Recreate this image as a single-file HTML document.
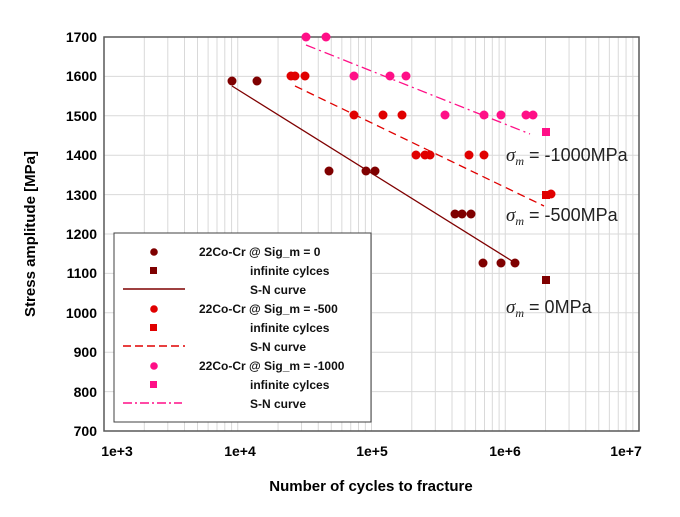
<!DOCTYPE html>
<html><head><meta charset="utf-8"><style>body{margin:0;background:#fff}svg{display:block}</style></head><body>
<svg width="680" height="517" xmlns="http://www.w3.org/2000/svg" font-family="Liberation Sans, Arial, sans-serif">
<g stroke="#d9d9d9" stroke-width="1">
<line x1="104" y1="76.4" x2="639" y2="76.4"/><line x1="104" y1="115.8" x2="639" y2="115.8"/><line x1="104" y1="155.2" x2="639" y2="155.2"/><line x1="104" y1="194.6" x2="639" y2="194.6"/><line x1="104" y1="234" x2="639" y2="234"/><line x1="104" y1="273.4" x2="639" y2="273.4"/><line x1="104" y1="312.8" x2="639" y2="312.8"/><line x1="104" y1="352.2" x2="639" y2="352.2"/><line x1="104" y1="391.6" x2="639" y2="391.6"/>
<g id="dec">
<line x1="144.3" y1="37" x2="144.3" y2="431"/><line x1="167.8" y1="37" x2="167.8" y2="431"/><line x1="184.5" y1="37" x2="184.5" y2="431"/><line x1="197.5" y1="37" x2="197.5" y2="431"/><line x1="208.1" y1="37" x2="208.1" y2="431"/><line x1="217" y1="37" x2="217" y2="431"/><line x1="224.8" y1="37" x2="224.8" y2="431"/><line x1="231.6" y1="37" x2="231.6" y2="431"/><line x1="237.75" y1="37" x2="237.75" y2="431"/>
</g>
<use href="#dec" transform="translate(133.75,0)"/><use href="#dec" transform="translate(267.5,0)"/><use href="#dec" transform="translate(401.25,0)"/>
</g>
<rect x="104" y="37" width="535" height="394" fill="none" stroke="#595959" stroke-width="1.5"/>
<g font-size="14" font-weight="bold" fill="#000" text-anchor="end">
<text x="97" y="42">1700</text><text x="97" y="81">1600</text><text x="97" y="121">1500</text><text x="97" y="160">1400</text><text x="97" y="200">1300</text><text x="97" y="239">1200</text><text x="97" y="278">1100</text><text x="97" y="318">1000</text><text x="97" y="357">900</text><text x="97" y="397">800</text><text x="97" y="436">700</text>
</g>
<g font-size="14" font-weight="bold" text-anchor="middle">
<text x="117" y="456">1e+3</text><text x="240" y="456">1e+4</text><text x="372" y="456">1e+5</text><text x="505" y="456">1e+6</text><text x="626" y="456">1e+7</text>
<text x="371" y="491" font-size="15">Number of cycles to fracture</text>
<text transform="translate(35,234) rotate(-90)" font-size="15">Stress amplitude [MPa]</text>
</g>
<line x1="232" y1="86" x2="512" y2="261" stroke="#7f0000" stroke-width="1.3"/>
<line x1="295" y1="86" x2="544" y2="206" stroke="#e00000" stroke-width="1.3" stroke-dasharray="8,5"/>
<line x1="306" y1="45" x2="530" y2="134" stroke="#ff0f87" stroke-width="1.3" stroke-dasharray="10,4,2,4"/>
<g fill="#7f0000">
<circle cx="232" cy="81" r="4.5"/><circle cx="257" cy="81" r="4.5"/><circle cx="329" cy="171" r="4.5"/><circle cx="366" cy="171" r="4.5"/><circle cx="375" cy="171" r="4.5"/><circle cx="455" cy="214" r="4.5"/><circle cx="462" cy="214" r="4.5"/><circle cx="471" cy="214" r="4.5"/><circle cx="483" cy="263" r="4.5"/><circle cx="501" cy="263" r="4.5"/><circle cx="515" cy="263" r="4.5"/><rect x="542" y="276" width="8" height="8"/>
</g>
<g fill="#e00000">
<circle cx="291" cy="76" r="4.5"/><circle cx="295" cy="76" r="4.5"/><circle cx="305" cy="76" r="4.5"/><circle cx="354" cy="115" r="4.5"/><circle cx="383" cy="115" r="4.5"/><circle cx="402" cy="115" r="4.5"/><circle cx="416" cy="155" r="4.5"/><circle cx="425" cy="155" r="4.5"/><circle cx="430" cy="155" r="4.5"/><circle cx="469" cy="155" r="4.5"/><circle cx="484" cy="155" r="4.5"/><rect x="542" y="191" width="8" height="8"/><circle cx="551" cy="194" r="4.5"/>
</g>
<g fill="#ff0f87">
<circle cx="306" cy="37" r="4.5"/><circle cx="326" cy="37" r="4.5"/><circle cx="354" cy="76" r="4.5"/><circle cx="390" cy="76" r="4.5"/><circle cx="406" cy="76" r="4.5"/><circle cx="445" cy="115" r="4.5"/><circle cx="484" cy="115" r="4.5"/><circle cx="501" cy="115" r="4.5"/><circle cx="526" cy="115" r="4.5"/><circle cx="533" cy="115" r="4.5"/><rect x="542" y="128" width="8" height="8"/>
</g>
<g font-size="18" fill="#222">
<text x="506" y="161"><tspan font-family="Liberation Serif, serif" font-style="italic" font-size="19">σ</tspan><tspan font-family="Liberation Serif, serif" font-style="italic" font-size="12" dy="4">m</tspan><tspan dy="-4"> = -1000MPa</tspan></text>
<text x="506" y="221"><tspan font-family="Liberation Serif, serif" font-style="italic" font-size="19">σ</tspan><tspan font-family="Liberation Serif, serif" font-style="italic" font-size="12" dy="4">m</tspan><tspan dy="-4"> = -500MPa</tspan></text>
<text x="506" y="313"><tspan font-family="Liberation Serif, serif" font-style="italic" font-size="19">σ</tspan><tspan font-family="Liberation Serif, serif" font-style="italic" font-size="12" dy="4">m</tspan><tspan dy="-4"> = 0MPa</tspan></text>
</g>
<rect x="114" y="233" width="257" height="189" fill="#fff" stroke="#404040" stroke-width="1"/>
<g font-size="12" font-weight="bold" fill="#111">
<circle cx="154" cy="252" r="3.8" fill="#7f0000"/><text x="199" y="256">22Co-Cr @ Sig_m = 0</text>
<rect x="150" y="267" width="7" height="7" fill="#7f0000"/><text x="250" y="275">infinite cylces</text>
<line x1="123" y1="289" x2="185" y2="289" stroke="#7f0000" stroke-width="1.5"/><text x="250" y="294">S-N curve</text>
<circle cx="154" cy="309" r="3.8" fill="#e00000"/><text x="199" y="313">22Co-Cr @ Sig_m = -500</text>
<rect x="150" y="324" width="7" height="7" fill="#e00000"/><text x="250" y="332">infinite cylces</text>
<line x1="123" y1="346" x2="185" y2="346" stroke="#e00000" stroke-width="1.5" stroke-dasharray="8,4"/><text x="250" y="351">S-N curve</text>
<circle cx="154" cy="366" r="3.8" fill="#ff0f87"/><text x="199" y="370">22Co-Cr @ Sig_m = -1000</text>
<rect x="150" y="381" width="7" height="7" fill="#ff0f87"/><text x="250" y="389">infinite cylces</text>
<line x1="123" y1="403" x2="182" y2="403" stroke="#ff0f87" stroke-width="1.5" stroke-dasharray="9,3,2,3"/><text x="250" y="408">S-N curve</text>
</g>
</svg>
</body></html>
